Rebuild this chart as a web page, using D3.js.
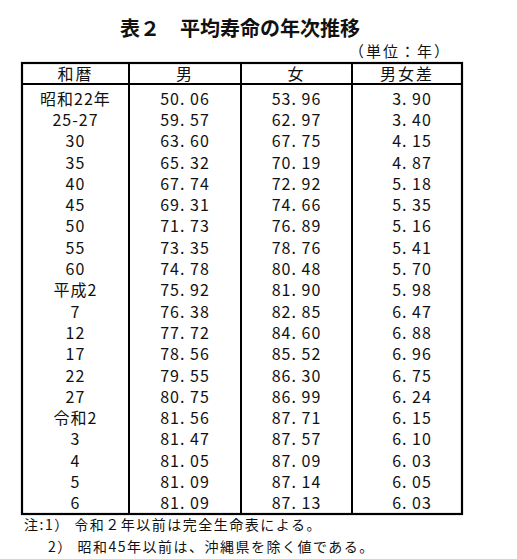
<!DOCTYPE html>
<html><head><meta charset="utf-8">
<script src="https://cdn.jsdelivr.net/npm/d3@7"></script>
<style>body{margin:0;background:#fff;}text{font-family:"Noto Sans CJK JP","Noto Sans",sans-serif;fill:#111;}</style>
</head><body>
<svg id="c" width="517" height="559"></svg>
<script>
// 表2 平均寿命の年次推移
const headers = ['和暦', '男', '女', '男女差'];
const eras = ['昭和22年','25-27','30','35','40','45','50','55','60','平成2','7','12','17','22','27','令和2','3','4','5','6'];
const male = [50.06,59.57,63.60,65.32,67.74,69.31,71.73,73.35,74.78,75.92,76.38,77.72,78.56,79.55,80.75,81.56,81.47,81.05,81.09,81.09];
const female = [53.96,62.97,67.75,70.19,72.92,74.66,76.89,78.76,80.48,81.90,82.85,84.60,85.52,86.30,86.99,87.71,87.57,87.09,87.14,87.13];
const diff = [3.90,3.40,4.15,4.87,5.18,5.35,5.16,5.41,5.70,5.98,6.47,6.88,6.96,6.75,6.24,6.15,6.10,6.03,6.05,6.03];
const notes = ['注:1） 令和２年以前は完全生命表による。', '2） 昭和45年以前は、沖縄県を除く値である。'];

const svg = d3.select('#c');
const colEdges = [22, 129, 241, 352, 462];
const x = d3.scaleOrdinal().domain(headers).range(d3.range(4).map(i => (colEdges[i] + colEdges[i+1]) / 2));
const y = d3.scaleBand().domain(d3.range(eras.length)).range([88, 514]);

svg.append('text').attr('x', 240).attr('y', 36).attr('text-anchor', 'middle')
    .attr('font-size', 20).attr('font-weight', 'bold').text('表２　平均寿命の年次推移');
svg.append('text').attr('x', 451).attr('y', 57).attr('text-anchor', 'end')
    .attr('font-size', 15).attr('letter-spacing', 2).text('（単位：年）');

// 罫線
const tTop = 63, hBot = 84, tBot = 514;
svg.append('rect').attr('x', colEdges[0]).attr('y', tTop).attr('width', colEdges[4] - colEdges[0])
    .attr('height', tBot - tTop).attr('fill', 'none').attr('stroke', '#000').attr('stroke-width', 2.2);
svg.append('line').attr('x1', colEdges[0]).attr('x2', colEdges[4]).attr('y1', hBot).attr('y2', hBot)
    .attr('stroke', '#000').attr('stroke-width', 2);
colEdges.slice(1, 4).forEach(cx => svg.append('line').attr('x1', cx).attr('x2', cx)
    .attr('y1', tTop).attr('y2', tBot).attr('stroke', '#000').attr('stroke-width', 2));

svg.selectAll('.h').data(headers).join('text').attr('x', d => x(d)).attr('y', 80)
    .attr('text-anchor', 'middle').attr('font-size', 16).attr('letter-spacing', 2).text(d => d);

const rows = eras.map((e, i) => [e, male[i].toFixed(2), female[i].toFixed(2), diff[i].toFixed(2)]);
const g = svg.selectAll('.r').data(rows).join('g')
    .attr('transform', (d, i) => `translate(0,${y(i) + y.bandwidth() / 2 + 6})`);
g.selectAll('text').data(d => d.map((v, j) => ({v, j}))).join('text')
    .attr('x', d => x(headers[d.j]) + (d.j === 3 ? 5 : 0))
    .attr('text-anchor', 'middle').attr('font-size', 16)
    .attr('letter-spacing', d => d.j === 0 ? 1 : 1)
    .text(d => d.j === 0 ? d.v : d.v.replace('.', '. '));

svg.append('text').attr('x', 24).attr('y', 530).attr('font-size', 14).attr('letter-spacing', 1.5).text(notes[0]);
svg.append('text').attr('x', 48).attr('y', 552).attr('font-size', 14).attr('letter-spacing', 1.5).text(notes[1]);
</script>
</body></html>
